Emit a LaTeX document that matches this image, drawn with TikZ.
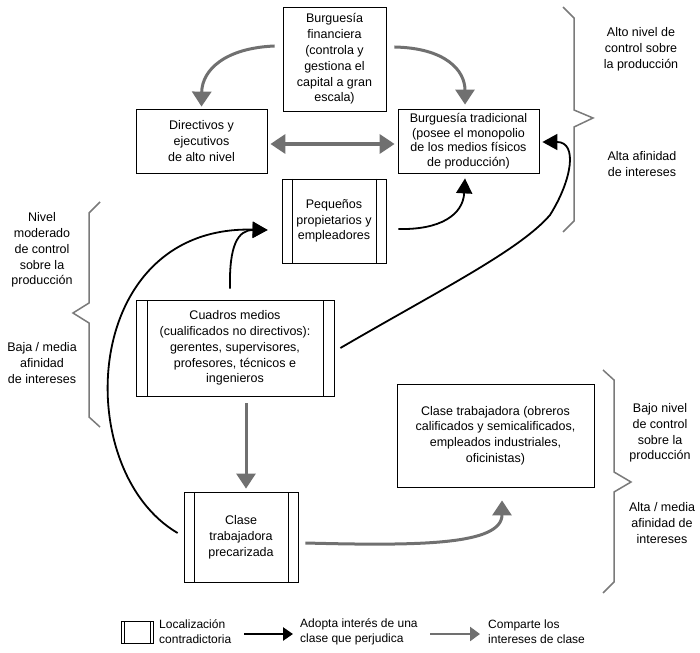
\documentclass[tikz,border=0pt]{standalone}
\usepackage{fontspec}
\setmainfont{Liberation Sans}
\usetikzlibrary{arrows.meta}
\definecolor{grisflecha}{HTML}{707070}
\definecolor{grisllave}{HTML}{7A7A7A}
\newcommand{\txtcaja}{\fontsize{12.5}{15.8}\selectfont}
\newcommand{\txtley}{\fontsize{12}{15}\selectfont}
\tikzset{
  box/.style={draw,line width=0.8pt,inner sep=0pt,align=center,font=\txtcaja},
  contra/.style={box,path picture={
      \draw[line width=0.8pt] ([xshift=#1]path picture bounding box.north west)--([xshift=#1]path picture bounding box.south west);
      \draw[line width=0.8pt] ([xshift=-#1]path picture bounding box.north east)--([xshift=-#1]path picture bounding box.south east);}},
  contra/.default=10pt,
  adopta/.style={-{Triangle[width=16pt,length=15pt]},line width=1.8pt},
  comparte/.style={-{Triangle[width=19pt,length=15pt]},line width=3pt,draw=grisflecha},
  llave/.style={draw=grisllave,line width=1.5pt},
  etiqueta/.style={align=center,font=\txtcaja},
  leyenda/.style={align=left,anchor=west,inner sep=0pt,font=\txtley}
}
\begin{document}
\begin{tikzpicture}[x=1pt,y=-1pt]
    \useasboundingbox (0,0) rectangle (700,652);
    \node[box,minimum width=103pt,minimum height=104pt] (fin) at (334.5,59) {Burguesía\\financiera\\(controla y\\gestiona el\\capital a gran\\escala)};
    \node[box,minimum width=131pt,minimum height=64pt] (dir) at (201.5,141) {Directivos y\\ejecutivos\\de alto nivel};
    \node[box,minimum width=141pt,minimum height=64pt,font=\fontsize{12.5}{14.5}\selectfont] (trad) at (468.5,141) {Burguesía tradicional\\(posee el monopolio\\de los medios físicos\\de producción)};
    \node[contra,minimum width=104pt,minimum height=84pt] (peq) at (334,221) {Pequeños\\propietarios y\\empleadores};
    \node[contra=11pt,minimum width=198pt,minimum height=96pt] (cm) at (235,348) {Cuadros medios\\(cualificados no directivos):\\gerentes, supervisores,\\profesores, técnicos e\\ingenieros};
    \node[box,minimum width=197pt,minimum height=103pt] (ct) at (495.5,435.5) {Clase trabajadora (obreros\\calificados y semicalificados,\\empleados industriales,\\oficinistas)};
    \node[contra,minimum width=114pt,minimum height=90pt] (prec) at (241,537) {Clase\\trabajadora\\precarizada};

    \draw[comparte] ([shift={(-8,-13)}]fin.west) .. controls (225,48) and (202,70) .. ([shift={(0,-2)}]dir.north);
    \draw[comparte] ([shift={(8,-12)}]fin.east) .. controls (445,48) and (465,70) .. ([shift={(-3.5,-4)}]trad.north);
    \draw[comparte,line width=3.5pt,{Triangle[width=19pt,length=15pt]}-{Triangle[width=19pt,length=15pt]}] ([shift={(3,3)}]dir.east) -- ([shift={(-3,3)}]trad.west);
    \draw[comparte] ([shift={(11,7)}]cm.south) -- ([shift={(5,-3)}]prec.north);
    \draw[comparte] ([shift={(7,6)}]prec.east) .. controls (420,546) and (502,545) .. ([shift={(6.5,13)}]ct.south);

    \draw[adopta] ([shift={(12,8)}]peq.east) .. controls (440,230) and (463,215) .. ([shift={(-3.5,5)}]trad.south);
    \draw[adopta] ([shift={(-5,-11)}]cm.north) .. controls (229,245) and (238,230) .. ([shift={(-14,9)}]peq.west);
    \draw[adopta] ([shift={(-6,-4)}]prec.west) .. controls (70,470) and (80,225) .. ([shift={(-14,9)}]peq.west);
    \draw[adopta] ([shift={(6,0)}]cm.east) .. controls (440,290) and (520,250) .. (550,215) .. controls (572,180) and (578,142) .. ([shift={(3,1)}]trad.east);

    \draw[llave] (563,7)--(574,18)--(574,110)--(593,118)--(574,127)--(574,221)--(563,232);
    \draw[llave] (100,202)--(89,213)--(89,303)--(73,313)--(89,323)--(89,417)--(100,427);
    \draw[llave] (603,370)--(614,380)--(614,472)--(631,482)--(614,492)--(614,582)--(603,593);

    \node[etiqueta] (altoctrl) at (641,49) {Alto nivel de\\control sobre\\la producción};
    \node[etiqueta] (altoaf) at (642,164) {Alta afinidad\\de intereses};
    \node[etiqueta] (modctrl) at (42,250) {Nivel\\moderado\\de control\\sobre la\\producción};
    \node[etiqueta] (bajaaf) at (42,363) {Baja / media\\afinidad\\de intereses};
    \node[etiqueta] (bajoctrl) at (660,433) {Bajo nivel\\de control\\sobre la\\producción};
    \node[etiqueta] (mediaaf) at (662,523) {Alta / media\\afinidad de\\intereses};

    \node[contra=3pt,minimum width=32pt,minimum height=22pt] (leycaja) at (137,632) {};
    \node[leyenda] (leycontra) at (159,632) {Localización\\contradictoria};
    \coordinate (adoptaA) at (244,634);
    \coordinate (adoptaB) at (293,634);
    \draw[adopta,line width=2.5pt,-{Triangle[width=13pt,length=10pt]}] (adoptaA) -- (adoptaB);
    \node[leyenda] (leyadopta) at (300,632) {Adopta interés de una\\clase que perjudica};
    \coordinate (comparteA) at (430,634);
    \coordinate (comparteB) at (480,634);
    \draw[comparte,line width=2.5pt,-{Triangle[width=14pt,length=10pt]}] (comparteA) -- (comparteB);
    \node[leyenda] (leycomparte) at (488,632) {Comparte los\\intereses de clase};
  \end{tikzpicture}
\end{document}
